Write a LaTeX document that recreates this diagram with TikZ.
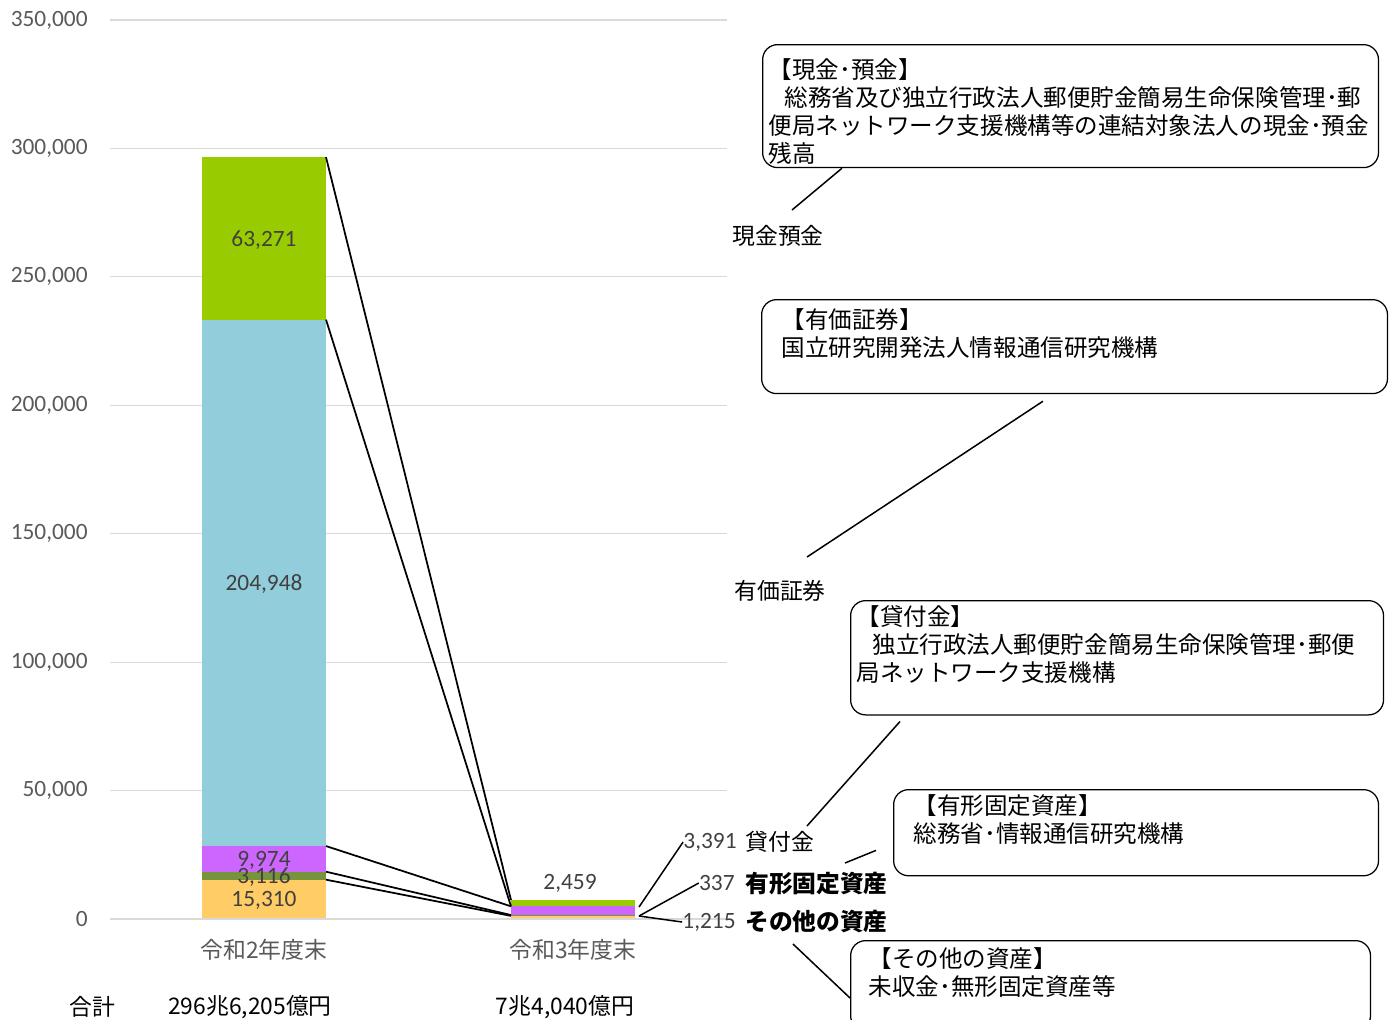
\documentclass[tikz,border=0pt]{standalone}
\usepackage{fontspec}
\setmainfont{Noto Sans CJK JP}
\newfontfamily\numfont{Carlito}
\newcommand\boxtop{\rule{0pt}{1.3em}}
\definecolor{cashgreen}{HTML}{99CC00}
\definecolor{secblue}{HTML}{92CDDC}
\definecolor{loanpurple}{HTML}{CC66FF}
\definecolor{tanolive}{HTML}{77933C}
\definecolor{othorange}{HTML}{FFCC66}
\definecolor{gridgrey}{HTML}{D9D9D9}
\definecolor{axisgrey}{HTML}{595959}
\definecolor{valgrey}{HTML}{404040}
\tikzset{
  gridline/.style={draw=gridgrey,line width=0.025cm},
  seriesline/.style={draw=black,line width=0.035cm},
  leader/.style={draw=black,line width=0.03cm},
  ticklabel/.style={anchor=east,inner sep=0pt,text=axisgrey,font=\numfont\fontsize{13.3pt}{15.9pt}\selectfont},
  datalabel/.style={inner sep=0pt,text=valgrey,font=\numfont\fontsize{13.3pt}{15.9pt}\selectfont},
  catlabel/.style={inner sep=0pt,text=axisgrey},
  assetlabel/.style={anchor=west,inner sep=0pt},
  callout/.style={draw=black,line width=0.025cm,rounded corners=0.3cm,anchor=north west,align=left,inner ysep=0.1cm,fill=white,font=\fontsize{13.4pt}{16pt}\selectfont}
}
\begin{document}
\begin{tikzpicture}[x=0.02cm,y=-0.02cm,font=\fontsize{13pt}{15.9pt}\selectfont]
  \useasboundingbox (0,0) rectangle (1390,1019);
  \clip (0,0) rectangle (1390,1019);

  % value axis
  \foreach \k in {1,...,7} {
    \pgfmathsetmacro\gy{919-128.43*\k}
    \pgfmathtruncatemacro\gv{50*\k}
    \draw [gridline] (110,\gy) -- (727,\gy);
    \node [ticklabel] (tick\k) at (88,\gy) {\gv,000};
  }
  \node [ticklabel] (tick0) at (88,919) {0};

  % 令和2年度末
  \coordinate (r2base) at (202,919);
  \coordinate (r2oth) at (326,879.67);
  \coordinate (r2tan) at (326,871.67);
  \coordinate (r2loan) at (326,846.05);
  \coordinate (r2sec) at (326,319.63);
  \coordinate (r2cash) at (326,157.11);
  \fill [othorange] (r2base) rectangle (r2oth);
  \fill [tanolive] (202,879.67) rectangle (r2tan);
  \fill [loanpurple] (202,871.67) rectangle (r2loan);
  \fill [secblue] (202,846.05) rectangle (r2sec);
  \fill [cashgreen] (202,319.63) rectangle (r2cash);

  % 令和3年度末
  \coordinate (r3base) at (511,919);
  \coordinate (r3oth) at (511,915.88);
  \coordinate (r3tan) at (511,915.01);
  \coordinate (r3loan) at (511,906.30);
  \coordinate (r3sec) at (511,906.30);
  \coordinate (r3cash) at (511,899.99);
  \fill [othorange] (r3base) rectangle (635,915.88);
  \fill [tanolive] (r3oth) rectangle (635,915.01);
  \fill [loanpurple] (r3tan) rectangle (635,906.30);
  \fill [cashgreen] (r3loan) rectangle (635,899.99);

  \draw [gridgrey,line width=0.04cm] (110,919) -- (727,919);

  % series lines
  \draw [seriesline] (r2cash) -- (r3cash);
  \draw [seriesline] (r2sec) -- (r3sec);
  \draw [seriesline] (r2loan) -- (r3loan);
  \draw [seriesline] (r2tan) -- (r3tan);
  \draw [seriesline] (r2oth) -- (r3oth);

  % data labels
  \node [datalabel] (cashval) at (264,240) {63,271};
  \node [datalabel] (secval) at (264,584) {204,948};
  \node [datalabel] (loanold) at (264,860) {9,974};
  \node [datalabel] (tanold) at (264,877) {3,116};
  \node [datalabel] (othold) at (264,900) {15,310};
  \node [datalabel] (cashnew) at (570,883) {2,459};

  \node [datalabel,anchor=east] (loanval) at (737,842) {3,391};
  \node [datalabel,anchor=east] (tanval) at (735,883) {337};
  \node [datalabel,anchor=east] (othval) at (736,922) {1,215};
  \coordinate (r3loanE) at (639,907);
  \coordinate (r3othE) at (639,916);
  \draw [leader] (r3loanE) -- (loanval.west);
  \draw [leader] (r3othE) -- (tanval.west);
  \draw [leader] (r3othE) -- (othval.west);

  % asset names
  \node [assetlabel] (cashlbl) at (732,236) {現金預金};
  \node [assetlabel] (seclbl) at (734,591) {有価証券};
  \node [assetlabel] (loanlbl) at (745,842) {貸付金};
  \node [assetlabel,font=\fontsize{13.5pt}{15.9pt}\selectfont\bfseries] (tanlbl) at (745,884) {有形固定資産};
  \node [assetlabel,font=\fontsize{13.5pt}{15.9pt}\selectfont\bfseries] (othlbl) at (745,922) {その他の資産};

  % category axis and totals
  \node [catlabel] (yearold) at (264,950) {令和2年度末};
  \node [catlabel] (yearnew) at (573,950) {令和3年度末};
  \node [inner sep=0pt] (sumlbl) at (92,1007) {合計};
  \node [inner sep=0pt] (sumold) at (250,1007) {296兆6,205億円};
  \node [inner sep=0pt] (sumnew) at (565,1007) {7兆4,040億円};

  % callouts
  \node [callout,inner xsep=0.12cm,inner ysep=0.02cm,text width=12.08cm,minimum height=2.46cm] (cashbox) at (762,44)
    {\boxtop【現金･預金】\\\hspace*{0.32cm}総務省及び独立行政法人郵便貯金簡易生命保険管理･郵\\便局ネットワーク支援機構等の連結対象法人の現金･預金\\残高};
  \node [callout,inner xsep=0.4cm,text width=11.72cm,minimum height=1.88cm] (secbox) at (761,299)
    {【有価証券】\\国立研究開発法人情報通信研究機構\\\mbox{}};
  \node [callout,inner xsep=0.12cm,text width=10.42cm,minimum height=2.28cm] (loanbox) at (850,600)
    {【貸付金】\\\hspace*{0.32cm}独立行政法人郵便貯金簡易生命保険管理･郵便\\局ネットワーク支援機構\\\mbox{}};
  \node [callout,inner xsep=0.4cm,text width=8.9cm,minimum height=1.64cm] (tanbox) at (893,789)
    {【有形固定資産】\\総務省･情報通信研究機構\\\mbox{}};
  \node [callout,inner xsep=0.36cm,text width=9.68cm,minimum height=1.8cm] (othbox) at (850,940)
    {【その他の資産】\\未収金･無形固定資産等\\\mbox{}};

  \coordinate (cashfoot) at (792,210);
  \coordinate (secfoot) at (807,557);
  \coordinate (loanfoot) at (807,826);
  \coordinate (tanfoot) at (845,863);
  \coordinate (othfoot) at (793,944);
  \draw [leader] (cashfoot) -- ([xshift=1.6cm]cashbox.south west);
  \draw [leader] (secfoot) -- ([shift={(5.64cm,-0.14cm)}]secbox.south west);
  \draw [leader] (loanfoot) -- ([shift={(1.0cm,-0.12cm)}]loanbox.south west);
  \draw [leader] (tanfoot) -- ([shift={(-0.34cm,0.52cm)}]tanbox.south west);
  \draw [leader] (othfoot) -- ([yshift=-1.16cm]othbox.north west);
\end{tikzpicture}
\end{document}
